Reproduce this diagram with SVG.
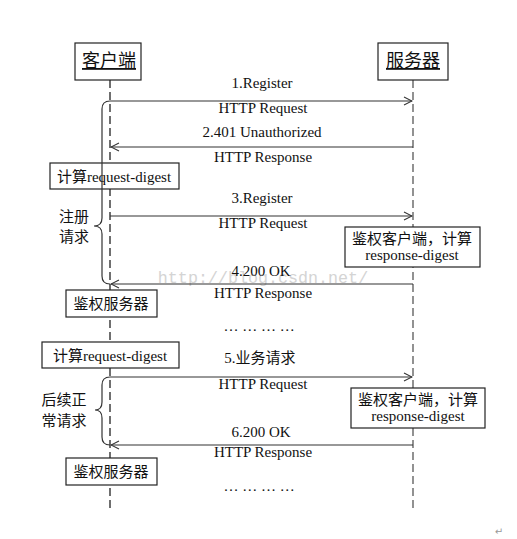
<svg xmlns="http://www.w3.org/2000/svg" width="517" height="539" viewBox="0 0 517 539">
<style>
.t{font-family:"Liberation Serif","Noto Sans CJK SC",serif;font-size:15px;fill:#111;text-anchor:middle}
.h{font-family:"Liberation Serif","Noto Sans CJK SC",serif;font-size:18px;fill:#111;text-anchor:middle;text-decoration:underline}
.box{fill:#fff;stroke:#222;stroke-width:1.2}
.ll{stroke:#222;stroke-width:1.3;stroke-dasharray:8,4;fill:none}
.ll2{stroke:#777;stroke-width:1.6;stroke-dasharray:8,4;fill:none}
.msg{stroke:#333;stroke-width:1.2;fill:none}
.br{stroke:#333;stroke-width:1.2;fill:none}
</style>
<defs>
<marker id="ah" viewBox="0 0 10 10" refX="9" refY="5" markerWidth="10" markerHeight="10" markerUnits="userSpaceOnUse" orient="auto">
<path d="M1,1 L9,5 L1,9" fill="none" stroke="#333" stroke-width="1.1"/>
</marker>
</defs>
<rect width="517" height="539" fill="#fff"/>
<g id="lifelines">
<line class="ll" x1="110" y1="80" x2="110" y2="510"/>
<line class="ll2" x1="413" y1="80" x2="413" y2="510"/>
</g>
<g id="client"><rect class="box" x="75" y="43" width="66" height="37"/><text class="h" x="109" y="67">客户端</text></g>
<g id="server"><rect class="box" x="378" y="43" width="70" height="37"/><text class="h" x="413" y="67">服务器</text></g>
<text x="263" y="283" font-family="'Liberation Mono',monospace" font-size="16.7" fill="#d4d4d4" text-anchor="middle">http://blog.csdn.net/</text>
<g id="connectors">
<line class="msg" x1="110" y1="101" x2="412" y2="101" marker-end="url(#ah)"/>
<line class="msg" x1="413" y1="147" x2="111" y2="147" marker-end="url(#ah)"/>
<line class="msg" x1="110" y1="216" x2="412" y2="216" marker-end="url(#ah)"/>
<line class="msg" x1="413" y1="284" x2="111" y2="284" marker-end="url(#ah)"/>
<line class="msg" x1="110" y1="377" x2="412" y2="377" marker-end="url(#ah)"/>
<line class="msg" x1="413" y1="445" x2="111" y2="445" marker-end="url(#ah)"/>
</g>
<g id="labels">
<text class="t" x="262" y="88">1.Register</text>
<text class="t" x="263" y="113">HTTP Request</text>
<text class="t" x="262" y="137">2.401 Unauthorized</text>
<text class="t" x="263" y="162">HTTP Response</text>
<text class="t" x="262" y="203">3.Register</text>
<text class="t" x="263" y="228">HTTP Request</text>
<text class="t" x="261" y="276">4.200 OK</text>
<text class="t" x="263" y="298">HTTP Response</text>
<text class="t" x="259" y="331">… … … …</text>
<text class="t" x="260" y="363">5.业务请求</text>
<text class="t" x="263" y="389">HTTP Request</text>
<text class="t" x="261" y="437">6.200 OK</text>
<text class="t" x="263" y="457">HTTP Response</text>
<text class="t" x="259" y="491">… … … …</text>
</g>
<g id="calc1"><rect class="box" x="50" y="163" width="129" height="26"/><text class="t" x="114" y="182">计算request-digest</text></g>
<g id="auth-client1"><rect class="box" x="345" y="227" width="135" height="40"/><text class="t" x="412" y="244">鉴权客户端，计算</text><text class="t" x="412" y="260">response-digest</text></g>
<g id="auth-server1"><rect class="box" x="66" y="290" width="91" height="27"/><text class="t" x="111" y="309">鉴权服务器</text></g>
<g id="calc2"><rect class="box" x="42" y="342" width="137" height="26"/><text class="t" x="110" y="361">计算request-digest</text></g>
<g id="auth-client2"><rect class="box" x="351" y="388" width="134" height="40"/><text class="t" x="418" y="405">鉴权客户端，计算</text><text class="t" x="418" y="421">response-digest</text></g>
<g id="auth-server2"><rect class="box" x="66" y="458" width="91" height="27"/><text class="t" x="111" y="477">鉴权服务器</text></g>
<g id="brace1">
<path class="br" d="M110,101 Q102,101 102,109 L102,218 Q102,226 94,226 Q102,226 102,234 L102,276 Q102,284 110,284"/>
<text class="t" x="74" y="222">注册</text><text class="t" x="74" y="242">请求</text>
</g>
<g id="brace2">
<path class="br" d="M110,377 Q102,377 102,385 L102,402 Q102,410 95,410 Q102,410 102,418 L102,437 Q102,445 110,445"/>
<text class="t" x="64" y="405">后续正</text><text class="t" x="64" y="426">常请求</text>
</g>
<text x="499" y="535" font-family="'DejaVu Sans',sans-serif" font-size="10" fill="#999" text-anchor="middle">↵</text>
</svg>
